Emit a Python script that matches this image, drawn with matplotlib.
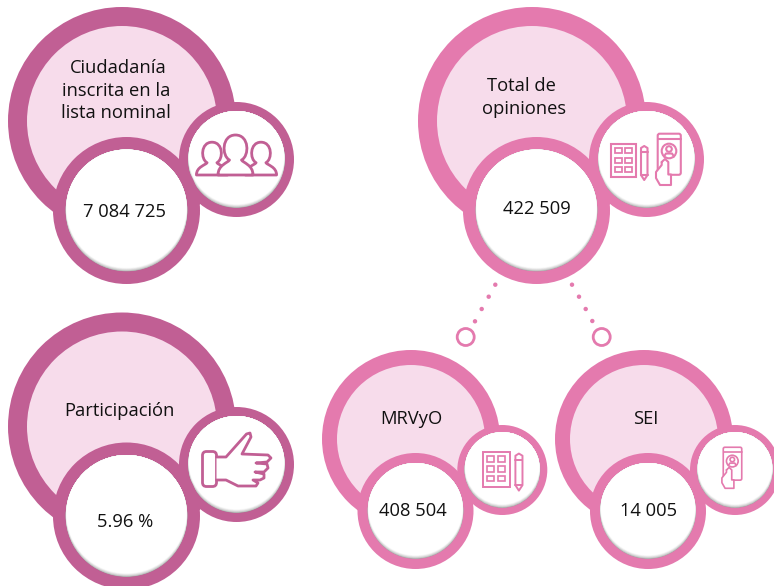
import matplotlib
matplotlib.use('Agg')
import matplotlib.pyplot as plt
from matplotlib.patches import Circle, Rectangle, FancyBboxPatch, PathPatch
from matplotlib.path import Path
from matplotlib.transforms import Affine2D

# Chart content
titles = ['Ciudadanía\ninscrita en la\nlista nominal', 'Total de\nopiniones', 'Participación', 'MRVyO', 'SEI']
values = ['7 084 725', '422 509', '5.96 %', '408 504', '14 005']

plt.rcParams['font.family'] = ['Open Sans', 'DejaVu Sans']

DARK = '#C15F94'
PINK = '#E47AAE'
PALE = '#F7DCEB'
INK = '#111111'
FONT = 13.2

fig = plt.figure(figsize=(7.74, 5.86), dpi=100)
ax = fig.add_axes([0, 0, 1, 1])
ax.set_xlim(0, 774)
ax.set_ylim(586, 0)
ax.axis('off')


def white_disc(x, y, r, z):
    # white circle with a soft inner shadow along the bottom edge
    clip = Circle((x, y), r, fc='none', ec='none')
    ax.add_patch(clip)
    steps = 12
    for i in range(steps + 1):
        t = i / steps
        grey = 0.62 + 0.38 * t ** 0.6
        c = Circle((x, y - 2.8 * t), r - 0.9 * t, fc=(grey, grey, grey), ec='none', zorder=z)
        ax.add_patch(c)
        c.set_clip_path(clip)


def bubble(big, val, ico, color):
    ax.add_patch(Circle(big[:2], big[2], fc=color, ec='none', zorder=1))
    ax.add_patch(Circle(big[:2], big[3], fc=PALE, ec='none', zorder=2))
    ax.add_patch(Circle(ico[:2], ico[2], fc=color, ec='none', zorder=3))
    white_disc(ico[0], ico[1], ico[3], 4)
    ax.add_patch(Circle(val[:2], val[2], fc=color, ec='none', zorder=5))
    white_disc(val[0], val[1], val[3], 6)


def stroke(verts, codes, color, tr, lw, fc='none', z=8):
    ax.add_patch(PathPatch(Path(verts, codes), fc=fc, ec=color, lw=lw, transform=tr + ax.transData,
                           zorder=z, joinstyle='round', capstyle='round'))


def person(x, base, s, half, color, z):
    M, C, Z = Path.MOVETO, Path.CURVE4, Path.CLOSEPOLY
    pts = [(-half, 0), (-half, -10), (-8, -12), (-6, -15), (-14, -19), (-14, -40), (0, -40),
           (14, -40), (14, -19), (6, -15), (8, -12), (half, -10), (half, 0), (-half, 0)]
    pts = [(x + a * s, base + b * s) for a, b in pts]
    codes = [M] + [C] * 12 + [Z]
    stroke(pts, codes, color, Affine2D(), 2.0, fc='white', z=z)


def people_icon(color):
    person(212, 175, 0.82, 19, color, 8)
    person(261, 175, 0.82, 19, color, 8)
    person(235.5, 175, 1.0, 17.5, color, 9)


def thumb_icon(color):
    tr = Affine2D()
    ax.add_patch(FancyBboxPatch((204, 453), 11, 32, boxstyle='round,pad=1.5,rounding_size=4', fc='white', ec=color,
                                lw=2.0, zorder=8))
    hand = [(216.5, 457), (226, 457), (246.5, 434), (250, 433), (251, 437), (242, 454), (268, 455), (271, 458),
            (267, 462), (256, 463), (267, 464), (268, 468), (264, 472), (255, 472), (264, 474), (264, 478),
            (260, 480), (253, 480), (258, 483), (256, 486), (238, 486), (226, 480), (216.5, 480)]
    L = Path.LINETO
    stroke(hand, [Path.MOVETO] + [L] * (len(hand) - 1), color, tr, 2.0, fc='white')


def form_icon(color, tr, lw):
    # grid sheet and pencil, drawn around the "Total de opiniones" position
    def rect(x, y, w, h, l):
        ax.add_patch(Rectangle((x, y), w, h, fc='none', ec=color, lw=l, transform=tr + ax.transData, zorder=8))
    rect(611, 144.3, 24.7, 32.3, lw)
    for y0 in (148.3, 157.5, 166.5):
        for x0 in (615, 625):
            rect(x0, y0, 6.7, 5, lw * 0.85)
    M, L, Z = Path.MOVETO, Path.LINETO, Path.CLOSEPOLY
    pencil = [(641, 148), (644.2, 146), (647.5, 148), (647.5, 175), (644.2, 180), (641, 175), (641, 148)]
    stroke(pencil, [M, L, L, L, L, L, Z], color, tr, lw)
    stroke([(641, 152), (647.5, 152)], [M, L], color, tr, lw)
    stroke([(641, 175), (647.5, 175)], [M, L], color, tr, lw)


def phone_icon(color, tr, lw):
    ax.add_patch(FancyBboxPatch((658, 134), 22.5, 40.5, boxstyle='round,pad=0.3,rounding_size=2', fc='none', ec=color,
                                lw=lw, transform=tr + ax.transData, zorder=8))
    M, L = Path.MOVETO, Path.LINETO
    stroke([(658, 139), (680.5, 139)], [M, L], color, tr, lw)
    ax.add_patch(Circle((669, 151), 7.3, fc='none', ec=color, lw=lw, transform=tr + ax.transData, zorder=8))
    ax.add_patch(Circle((669, 149), 2.8, fc='none', ec=color, lw=lw, transform=tr + ax.transData, zorder=8))
    stroke([(664, 156.5), (666, 153.5), (672, 153.5), (674, 156.5)], [M, L, L, L], color, tr, lw)
    # hand holding the phone, white fill hides the phone underneath
    hand = [(661.7, 162), (665, 159), (668.3, 162), (668.3, 174.5), (671, 174.5), (671, 185), (660, 185),
            (656, 178), (656, 172), (661.7, 165), (661.7, 162)]
    stroke(hand, [M] + [L] * (len(hand) - 1), color, tr, lw, fc='white', z=9)


bubble((122, 121, 114, 95), (126.5, 210.5, 73.5, 61), (236.5, 159.5, 57.5, 48.5), DARK)
bubble((532, 121, 114, 95), (536.5, 210.5, 73.5, 61), (646.5, 159.5, 57.5, 48.5), PINK)
bubble((122, 426.5, 114, 95), (126.5, 516, 73.5, 61), (236.5, 464.5, 57.5, 48.5), DARK)
bubble((411, 439, 89, 74), (415.5, 511, 58, 48), (502.3, 470, 45, 38), PINK)
bubble((644, 439, 89, 74), (648, 511, 58, 48), (735, 470, 45, 38), PINK)

people_icon(DARK)
thumb_icon(DARK)
same = Affine2D()
form_icon(PINK, same, 1.5)
phone_icon(PINK, same, 1.5)
form_icon(PINK, Affine2D().translate(-611, -144.3).scale(1.09).translate(482.7, 451.7), 1.4)
phone_icon(PINK, Affine2D().translate(-658, -134).scale(0.8).translate(723.5, 447.5), 1.2)

# connector dots and open rings below the total
for x, y in [(495.3, 284.7), (488.7, 296.7), (481.7, 309), (475, 321.3),
             (572, 284.7), (579, 296.7), (585.7, 309), (592.3, 321)]:
    ax.add_patch(Circle((x, y), 2.2, fc=PINK, ec='none', zorder=2))
for x in (465.7, 601.7):
    ax.add_patch(Circle((x, 337), 8.5, fc='white', ec=PINK, lw=2.0, zorder=2))

# labels
title_lines = [t.split('\n') for t in titles]
title_pos = [[(118.7, 72.7), (116, 96), (116, 118)],
             [(521.7, 91), (524.3, 114.3)],
             [(119, 416)],
             [(411.7, 424)],
             [(645.3, 424)]]
value_pos = [(124.3, 217.3), (537.3, 214), (124.7, 527.3), (413, 515.7), (648.3, 515.7)]

for lines, where in zip(title_lines, title_pos):
    for line, (x, y) in zip(lines, where):
        ax.text(x, y, line, ha='center', va='baseline', fontsize=FONT, color=INK, zorder=12)
for val, (x, y) in zip(values, value_pos):
    ax.text(x, y, val, ha='center', va='baseline', fontsize=FONT, color=INK, zorder=12)

fig.savefig('out.png', dpi=100)
